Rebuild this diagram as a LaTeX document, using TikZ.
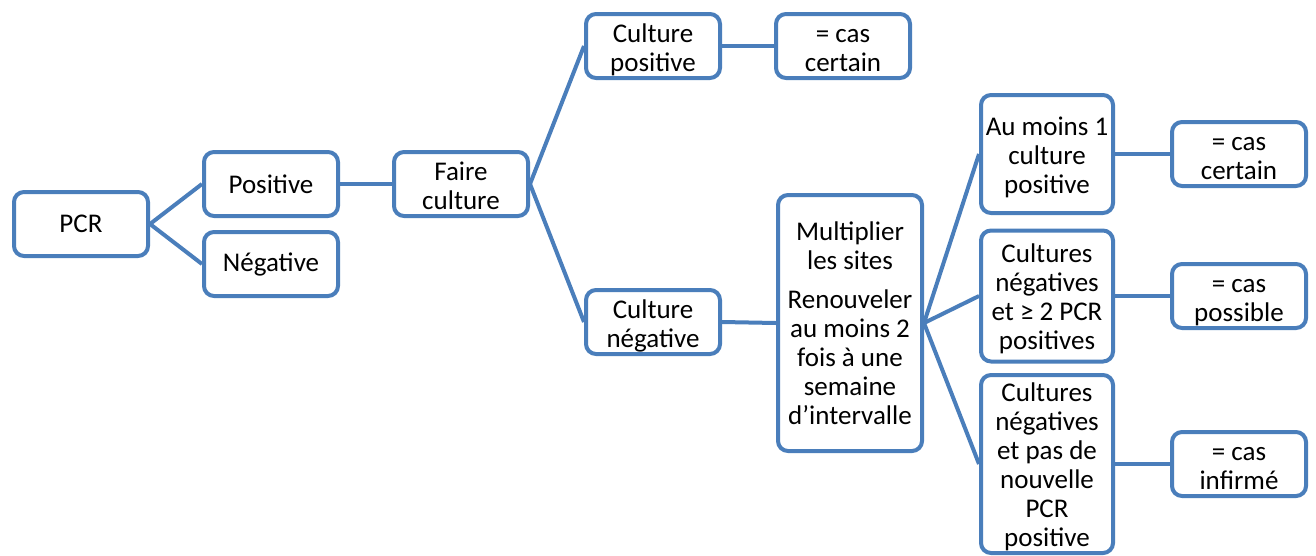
\documentclass[tikz,border=0pt]{standalone}
\usepackage{fontspec}
\setmainfont{Carlito}
\usepackage{tikz}
\usetikzlibrary{arrows.meta}
\definecolor{pcrblue}{RGB}{74,126,187}
% struts: top of first line, bottom of last line
\newcommand{\tp}{\rule{0pt}{28.5pt}}
\newcommand{\tq}{\rule{0pt}{26.5pt}}
\newcommand{\bt}{\rule[-6.5pt]{0pt}{6.5pt}}

\begin{document}
\begin{tikzpicture}[x=1pt,y=-1pt,
   every node/.style={font=\fontsize{27}{29}\selectfont},
   box/.style={draw=pcrblue,line width=4pt,rounded corners=10pt,fill=white,
     align=center,inner sep=0pt,minimum width=134pt,minimum height=64pt},
   link/.style={draw=pcrblue,line width=4pt}]
\useasboundingbox (0,0) rectangle (1316,555);
\node[box] (pcr) at (81,224) {PCR};
\node[box] (pos) at (271,184) {Positive};
\node[box] (neg) at (271,264) {Négative};
\node[box] (faire) at (461,184) {\tp Faire\\culture\bt};
\node[box] (cpos) at (653,46) {\tp Culture\\positive\bt};
\node[box] (certainA) at (843,46) {\tp= cas\\certain\bt};
\node[box] (cneg) at (653,322) {\tp Culture\\négative\bt};
\node[box,minimum width=144pt,minimum height=256pt] (multi) at (850,323)
   {Multiplier\\les sites\\[10pt]Renouveler\\au moins 2\\fois à une\\semaine\\d’intervalle};
\node[box,minimum width=132pt,minimum height=118pt] (auMoins) at (1047,154)
   {\tq Au moins 1\\culture\\positive\bt};
\node[box,minimum width=132pt,minimum height=131pt] (deuxPcr) at (1047,296)
   {\tq Cultures\\négatives\\et ≥ 2 PCR\\positives\bt};
\node[box,minimum width=132pt,minimum height=170pt] (pasPcr) at (1047,464)
   {\tq Cultures\\négatives\\et pas de\\nouvelle\\PCR\\positive\bt};
\node[box] (certainB) at (1239,154) {\tp= cas\\certain\bt};
\node[box] (possible) at (1239,296) {\tp= cas\\possible\bt};
\node[box] (infirme) at (1239,464) {\tp= cas\\infirmé\bt};
% connectors
\draw[link] (pcr.east) -- (pos.west);
\draw[link] (pcr.east) -- (neg.west);
\draw[link] (pos.east) -- (faire.west);
\draw[link] (faire.east) -- (cpos.west);
\draw[link] (faire.east) -- (cneg.west);
\draw[link] (cpos.east) -- (certainA.west);
\draw[link] (cneg.east) -- (multi.west);
\draw[link] (multi.east) -- (auMoins.west);
\draw[link] (multi.east) -- (deuxPcr.west);
\draw[link] (multi.east) -- (pasPcr.west);
\draw[link] (auMoins.east) -- (certainB.west);
\draw[link] (deuxPcr.east) -- (possible.west);
\draw[link] (pasPcr.east) -- (infirme.west);
\end{tikzpicture}
\end{document}
